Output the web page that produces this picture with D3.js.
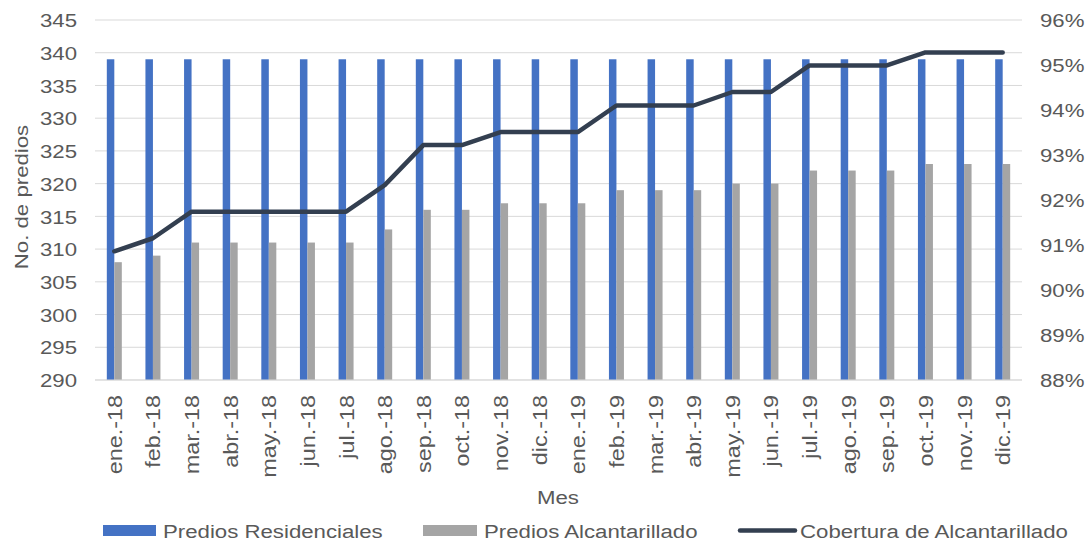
<!DOCTYPE html>
<html>
<head>
<meta charset="utf-8">
<script src="https://cdn.jsdelivr.net/npm/d3@7"></script>
<style>
  body { margin: 0; background: #fff; }
  svg { font-family: "Liberation Sans", Arial, sans-serif; }
</style>
</head>
<body>
<svg id="chart" width="1091" height="542"></svg>
<script>
// months
const meses = ["ene.-18","feb.-18","mar.-18","abr.-18","may.-18","jun.-18","jul.-18","ago.-18","sep.-18","oct.-18","nov.-18","dic.-18",
  "ene.-19","feb.-19","mar.-19","abr.-19","may.-19","jun.-19","jul.-19","ago.-19","sep.-19","oct.-19","nov.-19","dic.-19"];
const prediosResidenciales = [339,339,339,339,339,339,339,339,339,339,339,339,339,339,339,339,339,339,339,339,339,339,339,339];
const prediosAlcantarillado = [308,309,311,311,311,311,311,313,316,316,317,317,317,319,319,319,320,320,322,322,322,323,323,323];
const cobertura = [90.86,91.15,91.74,91.74,91.74,91.74,91.74,92.33,93.22,93.22,93.51,93.51,93.51,94.10,94.10,94.10,94.40,94.40,94.99,94.99,94.99,95.28,95.28,95.28];
const leftTicks = [290,295,300,305,310,315,320,325,330,335,340,345];
const rightTicks = [88,89,90,91,92,93,94,95,96];

const svg = d3.select("#chart");
const plotL = 95, plotR = 1022, plotT = 20, plotB = 380;
const textColor = "#595959";
const wide = 1.17; // the original text is drawn wider than Liberation Sans

const x = d3.scaleBand().domain(meses).range([plotL, plotR]).padding(0);
const xs = d3.scaleBand().domain(["res", "alc"]).range([0, 15]);
const y = d3.scaleLinear().domain([290, 345]).range([plotB, plotT]);
const y2 = d3.scaleLinear().domain([88, 96]).range([plotB, plotT]);

// text helper: place at (tx,ty), optional rotation, stretched along the text
function label(g, tx, ty, txt, size, anchor, rot) {
  return g.append("text")
    .attr("transform", "translate(" + tx + "," + ty + ")" + (rot ? " rotate(" + rot + ")" : "") + " scale(" + wide + ",1)")
    .attr("text-anchor", anchor)
    .attr("fill", textColor)
    .style("font-size", size + "px")
    .text(txt);
}

// gridlines
svg.append("g")
  .selectAll("line")
  .data(leftTicks)
  .enter()
  .append("line")
  .attr("x1", plotL).attr("x2", plotR)
  .attr("y1", d => y(d)).attr("y2", d => y(d))
  .attr("stroke", "#d9d9d9")
  .attr("stroke-width", 1);

// left axis
const yAxis = svg.append("g")
  .attr("transform", "translate(" + (plotL - 18) + ",0)")
  .call(d3.axisLeft(y).tickValues(leftTicks).tickSize(0).tickPadding(0));
yAxis.select(".domain").remove();
yAxis.selectAll("text").attr("fill", textColor).style("font-size", "19px").attr("dy", "0.35em")
  .attr("transform", "scale(" + wide + ",1)");

// right axis
const y2Axis = svg.append("g")
  .attr("transform", "translate(1040,0)")
  .call(d3.axisRight(y2).tickValues(rightTicks).tickFormat(d => d + "%").tickSize(0).tickPadding(0));
y2Axis.select(".domain").remove();
y2Axis.selectAll("text").attr("fill", textColor).style("font-size", "19px").attr("dy", "0.35em")
  .attr("transform", "scale(" + wide + ",1)");

// bars
const off = (x.bandwidth() - 15) / 2;
svg.append("g")
  .selectAll("rect")
  .data(meses)
  .enter()
  .append("rect")
  .attr("x", d => x(d) + off + xs("res"))
  .attr("width", xs.bandwidth())
  .attr("y", (d, i) => y(prediosResidenciales[i]))
  .attr("height", (d, i) => plotB - y(prediosResidenciales[i]))
  .attr("fill", "#4472c4");

svg.append("g")
  .selectAll("rect")
  .data(meses)
  .enter()
  .append("rect")
  .attr("x", d => x(d) + off + xs("alc"))
  .attr("width", xs.bandwidth())
  .attr("y", (d, i) => y(prediosAlcantarillado[i]))
  .attr("height", (d, i) => plotB - y(prediosAlcantarillado[i]))
  .attr("fill", "#a5a5a5");

// x axis line
svg.append("line")
  .attr("x1", plotL).attr("x2", plotR)
  .attr("y1", plotB).attr("y2", plotB)
  .attr("stroke", "#d9d9d9");

// coverage line
const line = d3.line()
  .x((d, i) => x(meses[i]) + x.bandwidth() / 2)
  .y(d => y2(d));
svg.append("path")
  .datum(cobertura)
  .attr("d", line)
  .attr("fill", "none")
  .attr("stroke", "#333f50")
  .attr("stroke-width", 4.5)
  .attr("stroke-linejoin", "round")
  .attr("stroke-linecap", "round");

// x labels
const xl = svg.append("g");
meses.forEach(m => label(xl, x(m) + x.bandwidth() / 2 + 7.5, 395, m, 20, "end", -90));

// axis titles
label(svg, 558, 504, "Mes", 19, "middle");
label(svg, 28, 197, "No. de predios", 19, "middle", -90);

// legend
const legend = svg.append("g");
legend.append("rect").attr("x", 103).attr("y", 525).attr("width", 53).attr("height", 11).attr("fill", "#4472c4");
label(legend, 163, 538, "Predios Residenciales", 19, "start");
legend.append("rect").attr("x", 423).attr("y", 525).attr("width", 54).attr("height", 11).attr("fill", "#a5a5a5");
label(legend, 484, 538, "Predios Alcantarillado", 19, "start");
legend.append("line").attr("x1", 740).attr("x2", 795).attr("y1", 530.5).attr("y2", 530.5)
  .attr("stroke", "#333f50").attr("stroke-width", 4.5).attr("stroke-linecap", "round");
label(legend, 800, 538, "Cobertura de Alcantarillado", 19, "start");
</script>
</body>
</html>
